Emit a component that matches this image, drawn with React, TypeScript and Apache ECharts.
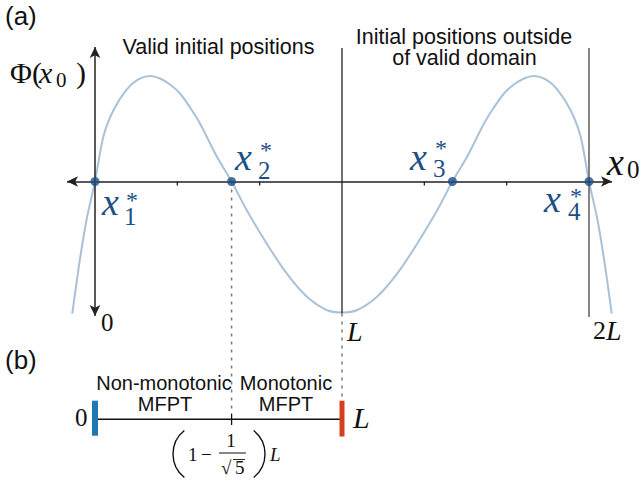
import { useEffect, useRef } from "react";
import * as echarts from "echarts";

// ---------- data (x in units of L, Φ in arbitrary units, min = -1) ----------
const L = 1;
const curveX = [-0.092, -0.061, -0.034, 0, 0.034, 0.074, 0.128, 0.175, 0.223, 0.263, 0.304, 0.344, 0.385, 0.425, 0.493, 0.553, 0.614, 0.695, 0.776, 0.857, 0.938, 1.0,
  1.062, 1.143, 1.224, 1.305, 1.386, 1.447, 1.507, 1.575, 1.615, 1.656, 1.696, 1.737, 1.777, 1.825, 1.872, 1.926, 1.966, 2.0, 2.034, 2.061, 2.092];
const curvePhi = [-1.008, -0.595, -0.29, 0, 0.344, 0.542, 0.702, 0.779, 0.805, 0.786, 0.74, 0.672, 0.565, 0.443, 0.191, 0, -0.218, -0.473, -0.702, -0.878, -0.981, -1,
  -0.981, -0.878, -0.702, -0.473, -0.218, 0, 0.191, 0.443, 0.565, 0.672, 0.74, 0.786, 0.805, 0.779, 0.702, 0.542, 0.344, 0, -0.29, -0.595, -1.008];
const rootX = [0, 0.553, 1.447, 2];
const tickX = [1 / 3, 2 / 3, 4 / 3, 5 / 3];

// ---------- layout ----------
const W = 642, H = 487;
const X0PX = 95, LPX = 247, Y0PX = 181.5, UPX = 131;
const xMin = -X0PX / LPX, xMax = (W - X0PX) / LPX;
const yMax = Y0PX / UPX, yMin = (Y0PX - H) / UPX;
const py = (p: number) => (Y0PX - p) / UPX; // pixel row -> data y
const pxX = (p: number) => (p - X0PX) / LPX; // pixel col -> data x

const SANS = "Liberation Sans";
const SERIF = "Liberation Serif";
const BLUE = "#1b4f86";
const INK = "#111111";

function txt(text: string, x: number, baseline: number, size: number, o: any = {}) {
  return {
    type: "text",
    x,
    y: baseline - 0.35 * size,
    silent: true,
    z: 10,
    style: {
      text,
      fill: o.color || INK,
      fontFamily: o.family || SERIF,
      fontSize: size,
      fontStyle: o.italic ? "italic" : "normal",
      align: o.align || "left",
      verticalAlign: "middle",
      lineHeight: size,
    },
  };
}

function star(label: string, x: number, base: number, sx: number, starMid: number, subBase: number) {
  return [
    txt("x", x, base, 38, { italic: true, color: BLUE }),
    txt("*", sx, starMid + 0.52 * 24, 24, { color: BLUE }),
    txt(label, sx - 2, subBase, 25, { color: BLUE }),
  ];
}

function seg(x1: number, y1: number, x2: number, y2: number, color: string, width: number, type: any = "solid") {
  return {
    type: "line",
    data: [[x1, y1], [x2, y2]],
    showSymbol: false,
    symbol: "none",
    silent: true,
    lineStyle: { color, width, type, cap: "butt" },
    z: 3,
  };
}

export default function App() {
  const ref = useRef<HTMLDivElement>(null);
  useEffect(() => {
    const chart = echarts.init(ref.current!, null, { renderer: "svg" });
    const phiMin = Math.min(...curvePhi);
    const x2 = rootX[1];
    const series: any[] = [
      {
        type: "line",
        data: curveX.map((x, i) => [x, curvePhi[i]]),
        smooth: 0.3,
        showSymbol: false,
        symbol: "none",
        lineStyle: { color: "#a9c1d9", width: 2 },
        z: 2,
        silent: true,
        markLine: {
          silent: true,
          symbol: ["arrow", "arrow"],
          symbolSize: [8, 11],
          label: { show: false },
          lineStyle: { color: "#222", width: 1.5, type: "solid" },
          emphasis: { disabled: true },
          data: [
            [{ coord: [pxX(67), 0] }, { coord: [pxX(612), 0] }],
            [{ coord: [0, py(47)] }, { coord: [0, py(316)] }],
          ],
        },
      },
      seg(L, py(48), L, phiMin, "#222", 1.3),
      seg(2 * L, py(48), 2 * L, py(317), "#666", 1.6),
      ...tickX.map((t) => seg(t, 0, t, py(185.5), "#222", 1.3)),
      seg(x2, 0, x2, py(413), "#7a7a7a", 1.5, [3, 5]),
      seg(L, phiMin, L, py(400), "#7a7a7a", 1.5, [3, 5]),
      seg(0, py(419.3), L, py(419.3), INK, 1.5),
      seg(x2, py(413.5), x2, py(425), INK, 1.3),
      seg(0, py(400.7), 0, py(435.7), "#1f77b4", 6),
      seg(L, py(400.7), L, py(436.5), "#d4401f", 5),
      {
        type: "scatter",
        data: rootX.map((x) => [x, 0]),
        symbol: "circle",
        symbolSize: 9,
        itemStyle: { color: BLUE },
        z: 6,
        silent: true,
      },
    ];

    const graphic: any[] = [
      txt("(a)", 5, 25, 26, { family: SANS }),
      txt("(b)", 5, 369, 26, { family: SANS }),
      txt("Valid initial positions", 218.5, 55, 21.5, { family: SANS, align: "center" }),
      txt("Initial positions outside", 464, 45, 21.5, { family: SANS, align: "center" }),
      txt("of valid domain", 464.5, 66, 21.5, { family: SANS, align: "center" }),
      // Φ(x0)
      txt("Φ", 10, 83, 30),
      txt("(", 32, 83, 30),
      txt("x", 39, 83, 30, { italic: true }),
      txt("0", 56, 87, 21),
      txt(")", 76, 83, 30),
      // x0 axis label
      txt("x", 607, 175, 38, { italic: true }),
      txt("0", 627, 178, 25),
      // roots
      ...star("1", 102, 215, 126, 196, 225),
      ...star("2", 235, 170, 260, 146, 179),
      ...star("3", 410, 170, 435, 144, 177),
      ...star("4", 544, 212, 570, 192, 220),
      // axis tick labels (a)
      txt("0", 101, 331, 25),
      txt("L", 347, 341, 28, { italic: true }),
      txt("2", 593, 340, 26),
      txt("L", 606, 340, 28, { italic: true }),
      // (b)
      txt("0", 75, 426, 25),
      txt("L", 353, 428, 30, { italic: true }),
      txt("Non-monotonic", 164, 390, 20, { family: SANS, align: "center" }),
      txt("MFPT", 165, 411, 20, { family: SANS, align: "center" }),
      txt("Monotonic", 286, 390, 20, { family: SANS, align: "center" }),
      txt("MFPT", 286, 411, 20, { family: SANS, align: "center" }),
      // (1 - 1/sqrt5) L
      txt("1", 188, 461, 19),
      txt("−", 201, 461, 19),
      txt("1", 231, 447, 19, { align: "center" }),
      txt("√", 221, 474, 19),
      txt("5", 235, 474, 19),
      txt("L", 270, 461, 19, { italic: true }),
      { type: "line", silent: true, shape: { x1: 219, y1: 453, x2: 246, y2: 453 }, style: { stroke: INK, lineWidth: 1 } },
      { type: "line", silent: true, shape: { x1: 233, y1: 459.5, x2: 245, y2: 459.5 }, style: { stroke: INK, lineWidth: 0.9 } },
      { type: "arc", silent: true, shape: { cx: 203, cy: 454, r: 30, startAngle: Math.PI - 0.9, endAngle: Math.PI + 0.9 }, style: { stroke: INK, lineWidth: 1.4, fill: "none" } },
      { type: "arc", silent: true, shape: { cx: 235, cy: 454, r: 30, startAngle: -0.9, endAngle: 0.9 }, style: { stroke: INK, lineWidth: 1.4, fill: "none" } },
    ];

    chart.setOption({
      animation: false,
      backgroundColor: "#ffffff",
      grid: { left: 0, right: 0, top: 0, bottom: 0, containLabel: false },
      xAxis: { type: "value", min: xMin, max: xMax, show: false },
      yAxis: { type: "value", min: yMin, max: yMax, show: false },
      series,
      graphic,
    });
    return () => chart.dispose();
  }, []);
  return <div ref={ref} style={{ position: "absolute", left: 0, top: 0, width: W, height: H }} />;
}
